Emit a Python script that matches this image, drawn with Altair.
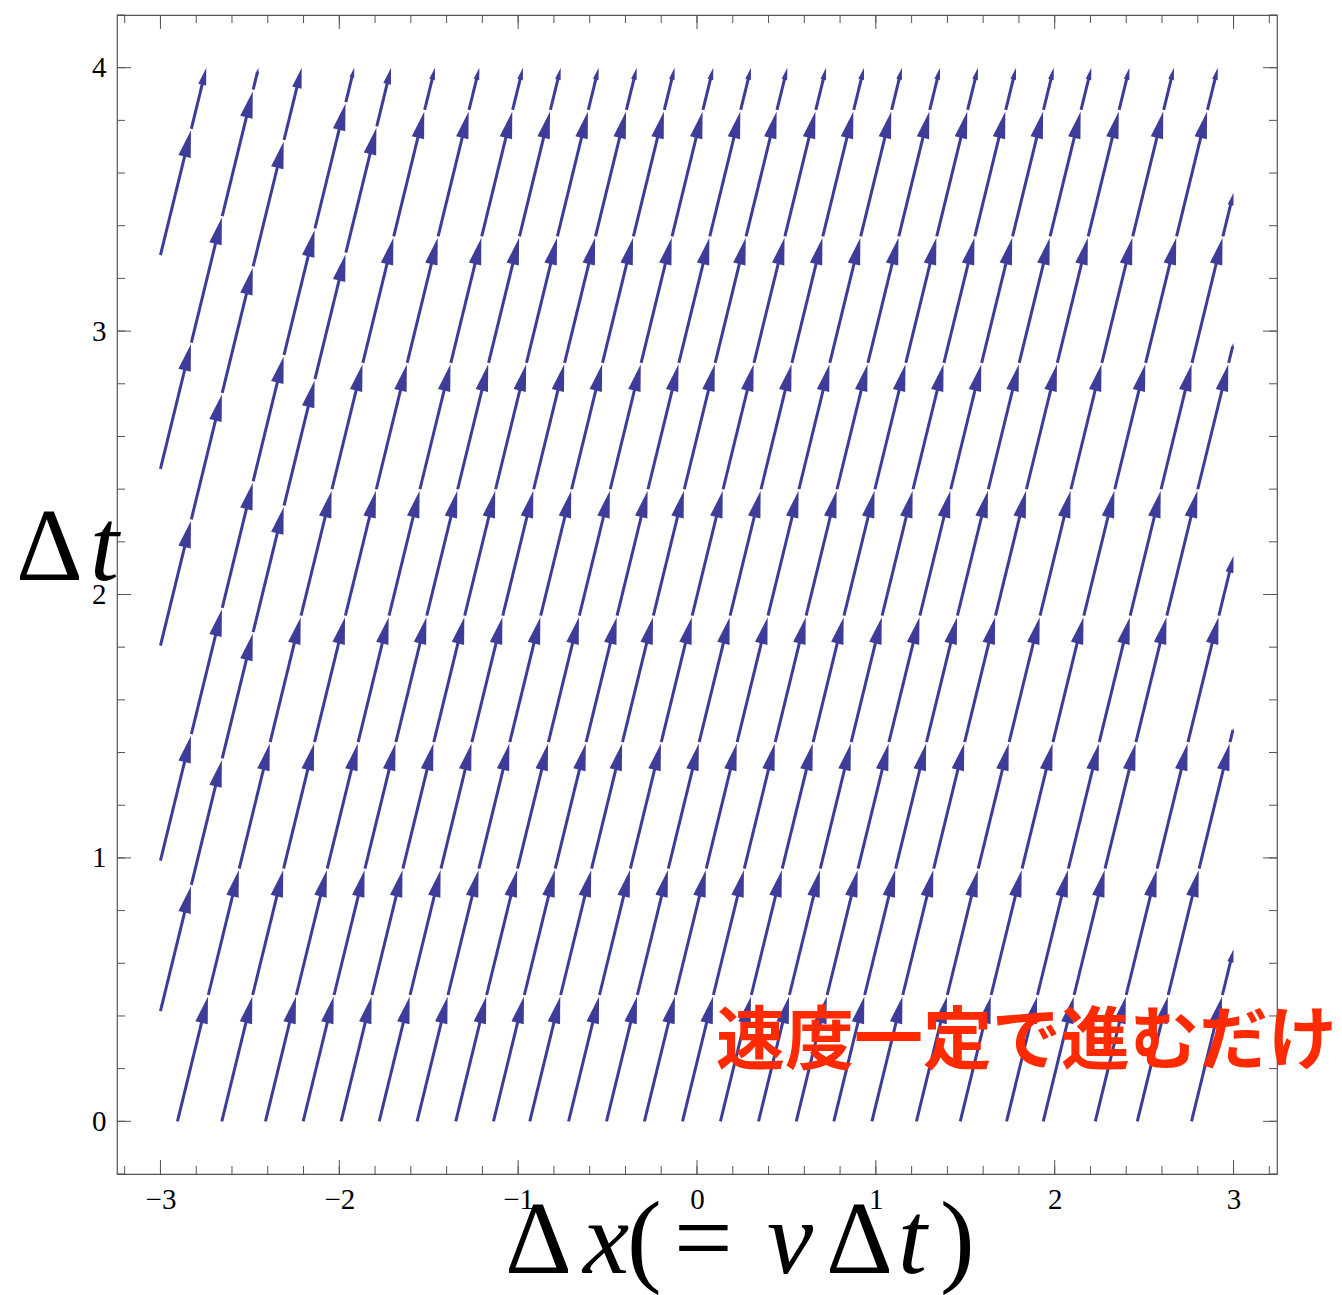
import math

import altair as alt
import pandas as pd

# Uniform motion: every world line has the same slope dx/dt = v
velocity = 0.36

# Streamlines entering through the bottom edge (Δt = 0), by their Δx
bottom_starts = [-2.905, -2.657, -2.413, -2.202, -1.990, -1.777, -1.565, -1.349,
                 -1.138, -0.935, -0.718, -0.506, -0.294, -0.081, 0.131, 0.344,
                 0.555, 0.765, 0.978, 1.227, 1.472, 1.731, 1.936, 2.227, 2.462,
                 2.765]
# Streamlines entering through the left edge (Δx = -3), by their Δt
left_entry_times = [0.418, 0.990, 1.806, 2.477, 3.288]

# Arrowheads along each streamline: first one after this Δt, then every spacing
first_arrow = 0.474
arrow_spacing = 0.48

x_left, x_right, t_top = -3.0, 3.0, 4.0

x_major = [-3, -2, -1, 0, 1, 2, 3]
y_major = [0, 1, 2, 3, 4]
x_minor = [round(-3.2 + 0.2 * i, 1) for i in range(33)]
y_minor = [round(-0.2 + 0.2 * i, 1) for i in range(23)]

# ---- layout -------------------------------------------------------------
W, H = 1160, 1159
X_DOMAIN = [-3.243, 3.243]
T_DOMAIN = [-0.2, 4.2]
LINE_COLOR = "#3d3d99"
FRAME_COLOR = "#555555"
SERIF = "Liberation Serif"

px_x = W / (X_DOMAIN[1] - X_DOMAIN[0])
px_t = H / (T_DOMAIN[1] - T_DOMAIN[0])
tilt = math.atan(velocity * px_x / px_t)          # on-screen lean of the lines
px_along = px_t / math.cos(tilt)                  # pixels along a line per unit Δt
HEAD_MAX, HEAD_FRAC, GAP = 27.0, 0.27, 1.5

# ---- streamline segments and arrowheads ----------------------------------
lines = [(c, 0.0) for c in bottom_starts] + \
        [(x_left - velocity * t0, t0) for t0 in left_entry_times]

seg_rows, head_rows = [], []
for c, t0 in lines:
    t_end = min(t_top, (x_right - c) / velocity)
    stops = []
    k = 0
    while True:
        t = t0 + first_arrow + k * arrow_spacing
        if t >= t_end - 0.02:
            break
        stops.append(t)
        k += 1
    stops.append(t_end)
    prev = t0
    for i, tip in enumerate(stops):
        seg_px = (tip - prev) * px_along
        head = min(HEAD_MAX, HEAD_FRAC * seg_px)
        start = prev if i == 0 else prev + GAP / px_along
        end = tip - 0.65 * head / px_along
        seg_rows.append(dict(x=c + velocity * start, t=start,
                             x2=c + velocity * end, t2=end))
        head_rows.append(dict(x=c + velocity * tip, t=tip, size=head ** 2))
        prev = tip

segs = pd.DataFrame(seg_rows)
heads = pd.DataFrame(head_rows)

xs = alt.Scale(domain=X_DOMAIN, nice=False, zero=False)
ys = alt.Scale(domain=T_DOMAIN, nice=False, zero=False)

x_axis = alt.Axis(values=x_major, ticks=False, tickSize=0, domain=False, grid=False,
                  labelFont=SERIF, labelFontSize=29, labelColor="black",
                  labelPadding=11, labelFlush=False)
y_axis = alt.Axis(values=y_major, ticks=False, tickSize=0, domain=False, grid=False,
                  labelFont=SERIF, labelFontSize=29, labelColor="black",
                  labelPadding=11, labelFlush=False)

stream = alt.Chart(segs).mark_rule(color=LINE_COLOR, strokeWidth=3,
                                   strokeCap="butt").encode(
    x=alt.X("x:Q", scale=xs, axis=x_axis, title=None),
    y=alt.Y("t:Q", scale=ys, axis=y_axis, title=None),
    x2="x2:Q",
    y2="t2:Q",
)

arrows = alt.Chart(heads).mark_point(
    shape="M0,0L0.47,2L-0.47,2Z", filled=True, opacity=1, strokeWidth=0,
    color=LINE_COLOR, angle=math.degrees(tilt)
).encode(
    x=alt.X("x:Q", scale=xs, axis=x_axis, title=None),
    y=alt.Y("t:Q", scale=ys, axis=y_axis, title=None),
    size=alt.Size("size:Q", scale=None),
)


def x_ticks(values, length, top):
    y0 = 0 if top else H
    y1 = length if top else H - length
    return alt.Chart(pd.DataFrame({"v": values})).mark_rule(
        color=FRAME_COLOR, strokeWidth=1).encode(
        x=alt.X("v:Q", scale=xs, axis=x_axis, title=None),
        y=alt.value(y0), y2=alt.value(y1))


def y_ticks(values, length, right):
    x0 = W if right else 0
    x1 = W - length if right else length
    return alt.Chart(pd.DataFrame({"v": values})).mark_rule(
        color=FRAME_COLOR, strokeWidth=1).encode(
        y=alt.Y("v:Q", scale=ys, axis=y_axis, title=None),
        x=alt.value(x0), x2=alt.value(x1))


ticks = [
    x_ticks(x_minor, 8, False), x_ticks(x_minor, 8, True),
    x_ticks(x_major, 14, False), x_ticks(x_major, 14, True),
    y_ticks(y_minor, 8, False), y_ticks(y_minor, 8, True),
    y_ticks(y_major, 14, False), y_ticks(y_major, 14, True),
]

one = pd.DataFrame({"k": [0]})


def glyph(text, x, y, size, italic=False, font=SERIF, color="black", weight="normal"):
    return alt.Chart(one).mark_text(
        text=text, font=font, fontSize=size, fontStyle="italic" if italic else "normal",
        fontWeight=weight, align="left", baseline="alphabetic", color=color
    ).encode(x=alt.value(x), y=alt.value(y))


# Axis titles written out in mathematical style
TITLE_SIZE = 104
x_title = [
    glyph("Δ", 388, 1258, TITLE_SIZE),
    glyph("x", 466, 1258, TITLE_SIZE, italic=True),
    glyph("(", 510, 1258, TITLE_SIZE),
    glyph("=", 557, 1258, TITLE_SIZE),
    glyph("v", 650, 1258, TITLE_SIZE, italic=True),
    glyph("Δ", 709, 1258, TITLE_SIZE),
    glyph("t", 781, 1258, TITLE_SIZE, italic=True),
    glyph(")", 823, 1258, TITLE_SIZE),
]
y_title = [
    glyph("Δ", -101, 565, TITLE_SIZE),
    glyph("t", -27, 565, TITLE_SIZE, italic=True),
]
note = glyph("速度一定で進むだけ", 599, 1049, 69, font="Noto Sans CJK JP",
             color="#ff2a00", weight="bold")

chart = alt.layer(stream, arrows, *ticks, *x_title, *y_title, note).properties(
    width=W, height=H,
    autosize=alt.AutoSizeParams(type="none"),
    padding={"left": 117, "top": 15, "right": 65, "bottom": 121},
    background="white",
).configure_view(stroke=FRAME_COLOR, strokeWidth=1.2)

chart.save("out.html", embed_options={"renderer": "svg", "actions": False})
